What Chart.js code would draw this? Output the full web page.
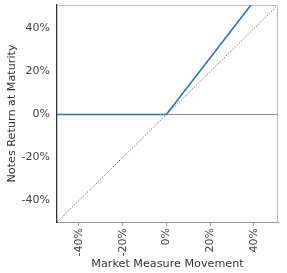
<!DOCTYPE html>
<html><head><meta charset="utf-8">
<script src="https://cdn.jsdelivr.net/npm/chart.js@4"></script>
<style>html,body{margin:0;padding:0;background:#fff}#w{width:287px;height:273px}</style>
</head><body><div id="w"><canvas id="c"></canvas></div>
<script>
const notesX = [-50, 0, 50];
const notesY = [0, 0, 66];
const refX = [-50, 50];
const refY = [-50, 50];
const xTicks = [-40, -20, 0, 20, 40];
const yTicks = [-40, -20, 0, 20, 40];
const xRange = [-50, 51];
const yRange = [-50, 51];

const frame = {
  id: 'frame',
  beforeDatasetsDraw(chart) {
    const a = chart.chartArea, ctx = chart.ctx;
    ctx.save();
    ctx.strokeStyle = '#bdbdbd';
    ctx.lineWidth = 1;
    ctx.beginPath();
    ctx.moveTo(a.left, a.top + 0.5);
    ctx.lineTo(a.right - 0.5, a.top + 0.5);
    ctx.lineTo(a.right - 0.5, a.bottom);
    ctx.stroke();
    ctx.restore();
  }
};

Chart.defaults.font.family = 'DejaVu Sans';
Chart.defaults.color = '#444';

new Chart(document.getElementById('c'), {
  type: 'scatter',
  data: {
    datasets: [
      {
        data: refX.map((x, i) => ({x, y: refY[i]})),
        showLine: true, borderColor: '#555', borderWidth: 0.8, borderDash: [1.5, 1.5],
        pointRadius: 0, fill: false, order: 2
      },
      {
        data: notesX.map((x, i) => ({x, y: notesY[i]})),
        showLine: true, borderColor: '#2f73a6', borderWidth: 1.6,
        pointRadius: 0, fill: false, order: 1
      }
    ]
  },
  options: {
    responsive: true, maintainAspectRatio: false, animation: false,
    layout: {padding: {top: 5, right: 9, left: 0, bottom: 0}},
    plugins: {legend: {display: false}, tooltip: {enabled: false}},
    scales: {
      x: {
        type: 'linear', min: xRange[0], max: xRange[1],
        afterBuildTicks: s => { s.ticks = xTicks.map(v => ({value: v})); },
        afterFit: s => { s.height = 51; s.paddingLeft = 0; s.paddingRight = 0; },
        ticks: {callback: v => v + '%', minRotation: 90, maxRotation: 90, padding: 2, font: {size: 11}, color: '#444'},
        grid: {drawOnChartArea: false, drawTicks: true, tickLength: 4, color: '#999'},
        border: {color: '#999', width: 1},
        title: {display: true, text: 'Market Measure Movement', font: {size: 11.2}, color: '#333', padding: {top: 0, bottom: 2}}
      },
      y: {
        type: 'linear', min: yRange[0], max: yRange[1],
        afterBuildTicks: s => { s.ticks = yTicks.map(v => ({value: v})); },
        afterFit: s => { s.width = 57; s.paddingTop = 0; s.paddingBottom = 0; },
        ticks: {callback: v => v + '%', padding: 7, font: {size: 11}, color: '#444'},
        grid: {drawTicks: false, color: c => (c.tick && c.tick.value === 0) ? '#888' : 'rgba(0,0,0,0)'},
        border: {color: '#333', width: 1.3},
        title: {display: true, text: 'Notes Return at Maturity', font: {size: 11.2}, color: '#333', padding: {top: 5, bottom: 0}}
      }
    }
  },
  plugins: [frame]
});
</script></body></html>
